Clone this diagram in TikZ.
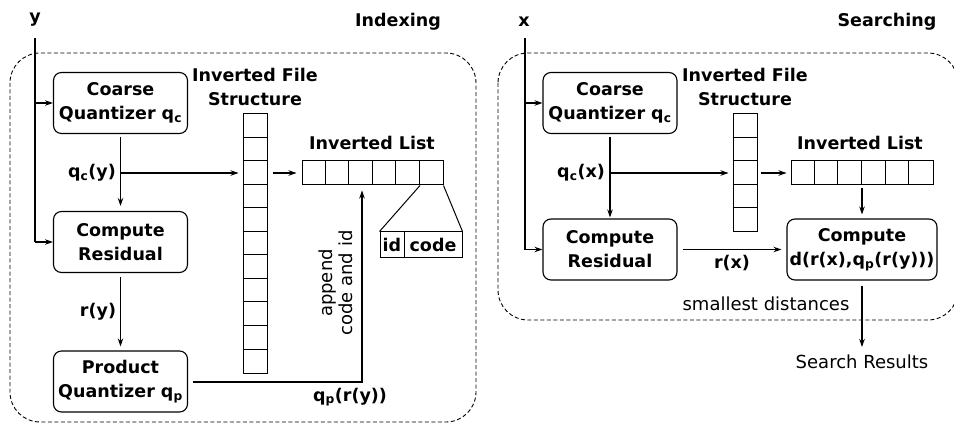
\documentclass[tikz,border=0pt]{standalone}
\usepackage{fontspec}
\setmainfont{DejaVu Sans}
\usetikzlibrary{arrows.meta,calc}
\begin{document}
\begin{tikzpicture}[x=1pt,y=-1pt,
  font=\fontsize{17.5}{24}\selectfont,
  pbox/.style={draw, rounded corners=8pt, line width=1.1pt, minimum width=134pt, minimum height=61pt, align=center, font=\fontsize{17.5}{24}\selectfont\bfseries, inner sep=2pt},
  arr/.style={-{Stealth[length=8pt,width=5.5pt]}, line width=1.1pt},
  plain/.style={line width=1.1pt},
  lbl/.style={font=\fontsize{17.5}{23.5}\selectfont\bfseries, align=center, inner sep=1pt},
  rlbl/.style={font=\fontsize{18}{20}\selectfont, align=center, inner sep=1pt},
  grp/.style={draw, dash pattern=on 4pt off 2.5pt, rounded corners=30pt, line width=0.9pt},
  cellcol/.style={draw, line width=1pt, minimum width=24pt, inner sep=0pt},
  celllist/.style={draw, line width=1pt, minimum height=24pt, inner sep=0pt}
]
\useasboundingbox (0,0) rectangle (954,425);
\clip (0,0) rectangle (954,425);

% ---------------- Indexing ----------------
\draw[grp] (10,53) rectangle (476,422);
\node[lbl] (titleL) at (398,22) {Indexing};
\node[lbl] (yin) at (35,20) {y};

\node[pbox] (cqL) at (120.5,103) {Coarse\\Quantizer q\textsubscript{c}};
\node[pbox] (resL) at (120.5,242) {Compute\\Residual};
\node[pbox] (pqL) at (120.5,381.5) {Product\\Quantizer q\textsubscript{p}};

\node[lbl] (ifsL) at (255,87) {Inverted File\\Structure};
\node[cellcol, minimum height=259pt] (colL) at (255,243.5) {};
\foreach \i in {1,...,10} \draw[line width=1pt] (colL.north west) ++(0,\i*23.55) -- ++(24,0);

\node[lbl] (ilL) at (372,143) {Inverted List};
\node[celllist, minimum width=141pt] (listL) at (372.5,173) {};
\foreach \i in {1,...,5} \draw[line width=1pt] (listL.north west) ++(\i*23.5,0) -- ++(0,24);

\node[draw, line width=1pt, minimum width=24pt, minimum height=25pt, inner sep=0pt, font=\fontsize{17.5}{21}\selectfont\bfseries] (idn) at (392,244.5) {id};
\node[draw, line width=1pt, minimum width=58pt, minimum height=25pt, inner sep=0pt, font=\fontsize{17.5}{21}\selectfont\bfseries] (coden) at (433,244.5) {code};
\coordinate (lastL) at ($(listL.south east)+(-23.5,0)$);
\draw[line width=1pt] (lastL) -- (idn.north west);
\draw[line width=1pt] (listL.south east) -- (coden.north east);

\coordinate (yTop) at (35,38);
\draw[plain] (yTop) -- (yTop |- resL.west);
\draw[arr] (yTop |- resL.west) -- (resL.west);
\draw[arr] (yTop |- cqL.west) -- (cqL.west);

\coordinate (bL) at (120.5,173);
\draw[arr, shorten <=3pt, shorten >=5pt] (cqL.south) -- (resL.north);
\draw[arr, shorten >=4pt] (bL) -- (bL -| colL.west);
\draw[arr, shorten <=5pt, shorten >=5pt] (bL -| colL.east) -- (listL.west);
\node[lbl, anchor=east] (qcyL) at (117,173) {q\textsubscript{c}(y)};

\draw[arr, shorten <=4pt, shorten >=4pt] (resL.south) -- (pqL.north);
\node[lbl] (ryL) at (98,312) {r(y)};

\coordinate (apL) at (362,382);
\draw[arr, shorten <=5pt, shorten >=5pt] (pqL.east |- apL) -- (apL) -- (apL |- listL.south);
\node[rlbl, rotate=90] (appL) at (336,283) {append\\code and id};
\node[lbl] (qprL) at (350,397) {q\textsubscript{p}(r(y))};

% ---------------- Searching ----------------
\draw[grp] (498,53) rectangle (958,320);
\node[lbl] (titleR) at (887,22) {Searching};
\node[lbl] (xin) at (524,22) {x};

\node[pbox] (cqR) at (610,103) {Coarse\\Quantizer q\textsubscript{c}};
\node[pbox] (resR) at (610,249.5) {Compute\\Residual};
\node[pbox, minimum width=150pt] (cdR) at (862,249.5) {Compute\\d(r(x),q\textsubscript{p}(r(y)))};

\node[lbl] (ifsR) at (745,87) {Inverted File\\Structure};
\node[cellcol, minimum height=118pt] (colR) at (745,173) {};
\foreach \i in {1,...,4} \draw[line width=1pt] (colR.north west) ++(0,\i*23.6) -- ++(24,0);

\node[lbl] (ilR) at (860,143) {Inverted List};
\node[celllist, minimum width=142pt] (listR) at (862,173) {};
\foreach \i in {1,...,5} \draw[line width=1pt] (listR.north west) ++(\i*23.67,0) -- ++(0,24);

\coordinate (xTop) at (525,38);
\draw[plain] (xTop) -- (xTop |- resR.west);
\draw[arr] (xTop |- resR.west) -- (resR.west);
\draw[arr] (xTop |- cqR.west) -- (cqR.west);

\coordinate (bR) at (610,173);
\draw[arr, shorten <=3pt, shorten >=1pt] (cqR.south) -- (resR.north);
\draw[arr, shorten >=4pt] (bR) -- (bR -| colR.west);
\draw[arr, shorten <=3pt, shorten >=4pt] (bR -| colR.east) -- (listR.west);
\node[lbl, anchor=east] (qcxR) at (606,173) {q\textsubscript{c}(x)};

\draw[arr, shorten <=3pt, shorten >=4pt] (listR.south) -- (cdR.north);
\draw[arr, shorten <=5pt, shorten >=5pt] (resR.east) -- (cdR.west);
\node[lbl] (rxR) at (732,263) {r(x)};

\coordinate (srTop) at (862,347);
\draw[arr, shorten <=5pt] (cdR.south) -- (srTop);
\node[rlbl] (sdR) at (766,304) {smallest distances};
\node[rlbl] (srR) at (862,362) {Search Results};
\end{tikzpicture}
\end{document}
